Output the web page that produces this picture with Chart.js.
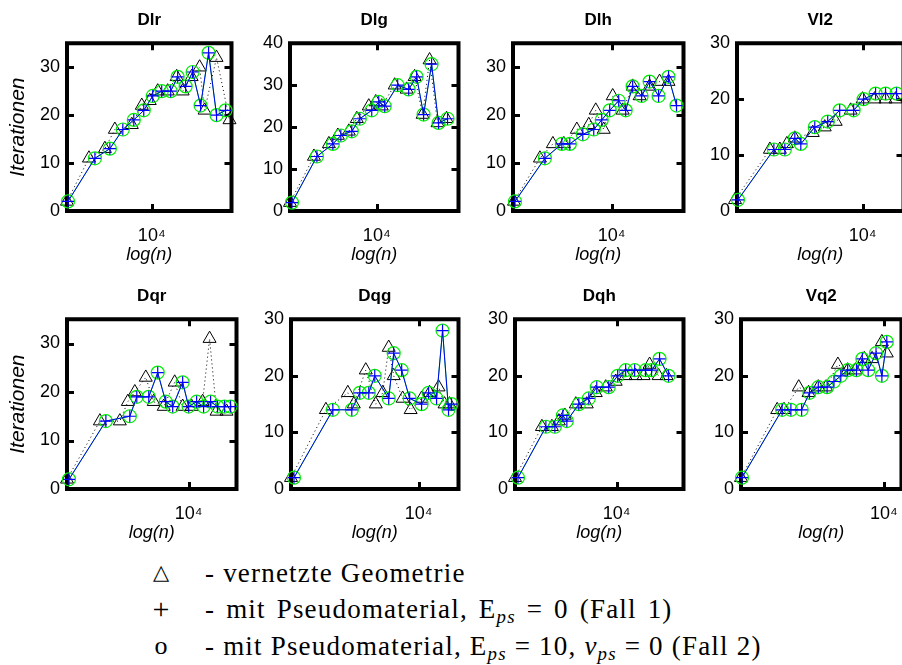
<!DOCTYPE html>
<html lang="de">
<head>
<meta charset="utf-8">
<title>Iterationen</title>
<script src="https://cdn.jsdelivr.net/npm/chart.js@4.4.1/dist/chart.umd.min.js"></script>
<style>
  html, body { margin: 0; padding: 0; background: #fff; }
  body { position: relative; width: 902px; height: 665px; overflow: hidden; }
  canvas { position: absolute; }
  .zeile { position: absolute; left: 205px; font-family: "Liberation Serif", "Times New Roman", serif; font-size: 27px; line-height: 27px; letter-spacing: 1.2px; white-space: nowrap; color: #000; }
  .symbol { position: absolute; left: 148px; width: 26px; text-align: center; font-family: "Liberation Serif", serif; line-height: 26px; color: #000; }
  .weit { word-spacing: 3px; }
  sub { font-size: 0.7em; vertical-align: -0.25em; line-height: 0; }
</style>
</head>
<body>
<div class="symbol" style="top:559px; font-family:'DejaVu Sans'; font-size:21px;">△</div>
<div class="zeile" style="top:560px;">- vernetzte Geometrie</div>
<div class="symbol" style="top:596px; font-size:30px;">+</div>
<div class="zeile weit" style="top:596px;">- mit Pseudomaterial, E<sub><i>ps</i></sub> = 0 (Fall 1)</div>
<div class="symbol" style="top:633px; font-size:26px;">o</div>
<div class="zeile" style="top:633px;">- mit Pseudomaterial, E<sub><i>ps</i></sub> = 10, <i>ν</i><sub><i>ps</i></sub> = 0 (Fall 2)</div>

<script>
// x values are log10(n), y values are iteration counts
const yTickValues = [0, 10, 20, 30, 40];
const xTickValues = [4];

// Dlr
const dlrNetzX = [3.15, 3.37, 3.53, 3.63, 3.80, 3.90, 3.98, 4.06, 4.16, 4.25, 4.31, 4.40, 4.48, 4.53, 4.65, 4.78];
const dlrNetzY = [2, 11, 13, 17, 18, 22, 23, 25, 25, 28, 25, 28, 30, 21, 32, 19];
const dlrPseudoX = [3.16, 3.43, 3.58, 3.71, 3.82, 3.92, 4.01, 4.10, 4.19, 4.26, 4.34, 4.41, 4.49, 4.57, 4.65, 4.74];
const dlrFall1 = [2, 11, 13, 17, 19, 21, 24, 25, 25, 28, 26, 29, 22, 33, 20, 21];
const dlrFall2 = [2, 11, 13, 17, 19, 21, 24, 25, 25, 28, 26, 29, 22, 33, 20, 21];

// Dlg
const dlgNetzX = [3.13, 3.37, 3.52, 3.61, 3.72, 3.80, 3.92, 3.99, 4.05, 4.18, 4.30, 4.38, 4.46, 4.53, 4.61, 4.70];
const dlgNetzY = [2, 13, 16, 18, 19, 22, 25, 26, 25, 30, 29, 32, 23, 36, 21, 22];
const dlgPseudoX = [3.15, 3.40, 3.56, 3.64, 3.75, 3.83, 3.95, 4.02, 4.08, 4.21, 4.32, 4.40, 4.47, 4.55, 4.62, 4.71];
const dlgFall1 = [2, 13, 16, 18, 19, 22, 24, 26, 25, 30, 29, 32, 23, 35, 21, 22];
const dlgFall2 = [2, 13, 16, 18, 19, 22, 24, 26, 25, 30, 29, 32, 23, 35, 21, 22];

// Dlh
const dlhNetzX = [3.02, 3.28, 3.41, 3.52, 3.65, 3.77, 3.84, 3.92, 4.01, 4.11, 4.21, 4.28, 4.38, 4.48, 4.57];
const dlhNetzY = [2, 11, 14, 14, 17, 18, 21, 17, 24, 21, 26, 24, 26, 27, 27];
const dlhPseudoX = [3.03, 3.33, 3.50, 3.58, 3.71, 3.82, 3.90, 3.98, 4.07, 4.14, 4.21, 4.30, 4.38, 4.47, 4.57, 4.65];
const dlhFall1 = [2, 11, 14, 14, 16, 17, 19, 21, 23, 21, 26, 24, 27, 24, 28, 22];
const dlhFall2 = [2, 11, 14, 14, 16, 17, 19, 21, 23, 21, 26, 24, 27, 24, 28, 22];

// Vl2
const vl2NetzX = [2.72, 3.07, 3.17, 3.24, 3.32, 3.50, 3.62, 3.73, 3.88, 4.00, 4.12, 4.23, 4.33];
const vl2NetzY = [2, 11, 11, 12, 13, 14, 15, 16, 18, 20, 20, 20, 20];
const vl2PseudoX = [2.75, 3.11, 3.22, 3.32, 3.38, 3.52, 3.65, 3.77, 3.91, 4.01, 4.13, 4.23, 4.34];
const vl2Fall1 = [2, 11, 11, 13, 12, 15, 16, 18, 18, 20, 21, 21, 21];
const vl2Fall2 = [2, 11, 11, 13, 12, 15, 16, 18, 18, 20, 21, 21, 21];

// Dqr
const dqrNetzX = [2.78, 3.11, 3.31, 3.39, 3.46, 3.57, 3.65, 3.75, 3.86, 3.94, 4.03, 4.14, 4.21, 4.28, 4.38];
const dqrNetzY = [2, 14, 14, 18, 20, 23, 18, 17, 22, 17, 17, 18, 31, 16, 16];
const dqrPseudoX = [2.80, 3.17, 3.41, 3.48, 3.60, 3.69, 3.77, 3.84, 3.94, 4.00, 4.08, 4.15, 4.22, 4.29, 4.36, 4.42];
const dqrFall1 = [2, 14, 15, 19, 19, 24, 18, 17, 22, 17, 18, 17, 18, 17, 17, 17];
const dqrFall2 = [2, 14, 15, 19, 19, 24, 18, 17, 22, 17, 18, 17, 18, 17, 17, 17];

// Dqg
const dqgNetzX = [2.72, 3.07, 3.29, 3.35, 3.47, 3.57, 3.64, 3.70, 3.75, 3.84, 3.92, 4.03, 4.11, 4.20, 4.26, 4.31];
const dqgNetzY = [2, 14, 17, 15, 21, 15, 17, 25, 20, 16, 14, 16, 17, 18, 15, 15];
const dqgPseudoX = [2.75, 3.14, 3.33, 3.41, 3.50, 3.56, 3.70, 3.75, 3.83, 3.91, 4.03, 4.10, 4.18, 4.24, 4.30, 4.33];
const dqgFall1 = [2, 14, 14, 17, 17, 20, 16, 24, 21, 16, 15, 17, 16, 28, 14, 15];
const dqgFall2 = [2, 14, 14, 17, 17, 20, 16, 24, 21, 16, 15, 17, 16, 28, 14, 15];

// Dqh
const dqhNetzX = [2.98, 3.25, 3.35, 3.42, 3.48, 3.59, 3.70, 3.79, 3.89, 3.99, 4.09, 4.19, 4.27, 4.33, 4.42, 4.50];
const dqhNetzY = [2, 11, 11, 12, 13, 15, 15, 17, 18, 19, 20, 20, 20, 22, 20, 20];
const dqhPseudoX = [3.01, 3.29, 3.38, 3.46, 3.50, 3.62, 3.72, 3.80, 3.92, 4.01, 4.09, 4.18, 4.29, 4.35, 4.43, 4.52];
const dqhFall1 = [2, 11, 11, 13, 12, 15, 16, 18, 18, 20, 21, 21, 21, 21, 23, 20];
const dqhFall2 = [2, 11, 11, 13, 12, 15, 16, 18, 18, 20, 21, 21, 21, 21, 23, 20];

// Vq2
const vq2NetzX = [2.54, 2.91, 2.98, 3.13, 3.23, 3.33, 3.41, 3.53, 3.63, 3.71, 3.80, 3.88, 3.98, 4.03];
const vq2NetzY = [2, 14, 14, 18, 17, 18, 18, 22, 21, 21, 23, 23, 26, 24];
const vq2PseudoX = [2.55, 2.96, 3.05, 3.16, 3.24, 3.33, 3.42, 3.49, 3.56, 3.63, 3.72, 3.78, 3.84, 3.92, 3.98, 4.03];
const vq2Fall1 = [2, 14, 14, 14, 17, 18, 18, 19, 20, 21, 21, 23, 21, 24, 20, 26];
const vq2Fall2 = [2, 14, 14, 14, 17, 18, 18, 19, 20, 21, 21, 23, 21, 24, 20, 26];

// axis limits per panel
const xLimits = [[3.15, 4.80], [3.13, 4.82], [3.01, 4.72], [2.74, 4.41], [2.78, 4.48], [2.72, 4.40], [2.98, 4.67], [2.54, 4.18]];
const yMax = [35, 40, 35, 30, 35, 30, 30, 30];

// plot boxes on the page: left, top, width, height
const boxes = [
  [67, 43, 165, 168], [290, 43, 169, 168], [513, 43, 171, 168], [737, 43, 167, 168],
  [67, 319, 170, 170], [291, 319, 168, 170], [515, 319, 169, 170], [741, 319, 164, 170]
];

const panels = [
  { title: 'Dlr', netzX: dlrNetzX, netzY: dlrNetzY, pseudoX: dlrPseudoX, fall1: dlrFall1, fall2: dlrFall2 },
  { title: 'Dlg', netzX: dlgNetzX, netzY: dlgNetzY, pseudoX: dlgPseudoX, fall1: dlgFall1, fall2: dlgFall2 },
  { title: 'Dlh', netzX: dlhNetzX, netzY: dlhNetzY, pseudoX: dlhPseudoX, fall1: dlhFall1, fall2: dlhFall2 },
  { title: 'Vl2', netzX: vl2NetzX, netzY: vl2NetzY, pseudoX: vl2PseudoX, fall1: vl2Fall1, fall2: vl2Fall2 },
  { title: 'Dqr', netzX: dqrNetzX, netzY: dqrNetzY, pseudoX: dqrPseudoX, fall1: dqrFall1, fall2: dqrFall2 },
  { title: 'Dqg', netzX: dqgNetzX, netzY: dqgNetzY, pseudoX: dqgPseudoX, fall1: dqgFall1, fall2: dqgFall2 },
  { title: 'Dqh', netzX: dqhNetzX, netzY: dqhNetzY, pseudoX: dqhPseudoX, fall1: dqhFall1, fall2: dqhFall2 },
  { title: 'Vq2', netzX: vq2NetzX, netzY: vq2NetzY, pseudoX: vq2PseudoX, fall1: vq2Fall1, fall2: vq2Fall2 }
];

const PAD_L = 62, PAD_R = 8, PAD_T = 40, PAD_B = 58;
const SANS = "'Liberation Sans', Arial, sans-serif";

Chart.defaults.font.family = SANS;
Chart.defaults.color = '#000';

const pts = (xs, ys) => xs.map((x, i) => ({ x: x, y: ys[i] }));

// thick frame with inward tick marks, drawn under the markers
const rahmen = {
  id: 'rahmen',
  beforeDatasetsDraw(chart) {
    const { ctx, chartArea: a, scales: { x, y } } = chart;
    ctx.save();
    ctx.strokeStyle = '#000';
    ctx.lineWidth = 3;
    ctx.beginPath();
    y.ticks.forEach(t => {
      const py = Math.round(y.getPixelForValue(t.value)) + 0.5;
      ctx.moveTo(a.left, py); ctx.lineTo(a.left + 7, py);
      ctx.moveTo(a.right, py); ctx.lineTo(a.right - 7, py);
    });
    x.ticks.forEach(t => {
      const px = Math.round(x.getPixelForValue(t.value)) + 0.5;
      ctx.moveTo(px, a.top); ctx.lineTo(px, a.top + 7);
      ctx.moveTo(px, a.bottom); ctx.lineTo(px, a.bottom - 7);
    });
    ctx.stroke();
    ctx.lineWidth = 4;
    ctx.strokeRect(a.left, a.top, a.right - a.left, a.bottom - a.top);
    ctx.restore();
  }
};

panels.forEach((p, i) => {
  const [bx, by, bw, bh] = boxes[i];
  const cv = document.createElement('canvas');
  cv.width = PAD_L + bw + PAD_R;
  cv.height = PAD_T + bh + PAD_B;
  cv.style.left = (bx - PAD_L) + 'px';
  cv.style.top = (by - PAD_T) + 'px';
  document.body.appendChild(cv);

  new Chart(cv, {
    type: 'line',
    data: {
      datasets: [
        {
          label: 'Fall 1',
          data: pts(p.pseudoX, p.fall1),
          borderColor: '#0000ff',
          borderWidth: 1,
          pointStyle: 'cross',
          pointRadius: 6,
          pointBorderColor: '#0000ff',
          pointBorderWidth: 1.2,
          clip: false
        },
        {
          label: 'Fall 2',
          data: pts(p.pseudoX, p.fall2),
          borderColor: '#00e000',
          borderWidth: 1,
          pointStyle: 'circle',
          pointRadius: 6.5,
          pointBorderColor: '#00ee00',
          pointBackgroundColor: 'rgba(0,0,0,0)',
          pointBorderWidth: 1.2,
          clip: false
        },
        {
          label: 'vernetzte Geometrie',
          data: pts(p.netzX, p.netzY),
          borderColor: '#000',
          borderWidth: 1,
          borderDash: [1, 3],
          pointStyle: 'triangle',
          pointRadius: 7.5,
          pointBorderColor: '#000',
          pointBackgroundColor: 'rgba(0,0,0,0)',
          pointBorderWidth: 1,
          clip: false
        }
      ]
    },
    options: {
      responsive: false,
      animation: false,
      events: [],
      layout: { padding: { left: 0, right: PAD_R, top: 0, bottom: 0 } },
      elements: { line: { tension: 0 } },
      plugins: {
        legend: { display: false },
        tooltip: { enabled: false },
        title: {
          display: true,
          text: p.title,
          fullSize: false,
          color: '#000',
          font: { size: 17, weight: 'bold', lineHeight: 1.25 },
          padding: { top: 7, bottom: 12 }
        }
      },
      scales: {
        x: {
          type: 'linear',
          min: xLimits[i][0],
          max: xLimits[i][1],
          grid: { display: false, drawTicks: false },
          border: { display: false },
          afterBuildTicks: s => { s.ticks = xTickValues.map(v => ({ value: v })); },
          afterFit: s => { s.height = PAD_B; },
          ticks: {
            autoSkip: false,
            maxRotation: 0,
            padding: 14,
            font: { size: 18 },
            callback: v => '10⁴'
          },
          title: {
            display: true,
            text: 'log(n)',
            font: { size: 18, style: 'italic' },
            padding: { top: 0, bottom: 3 }
          }
        },
        y: {
          min: 0,
          max: yMax[i],
          grid: { display: false, drawTicks: false },
          border: { display: false },
          afterBuildTicks: s => { s.ticks = yTickValues.filter(v => v <= s.max).map(v => ({ value: v })); },
          afterFit: s => { s.width = PAD_L; },
          ticks: { padding: 7, font: { size: 18 } },
          title: {
            display: i % 4 === 0,
            text: 'Iterationen',
            font: { size: 21, style: 'italic' },
            padding: { top: 1, bottom: 0 }
          }
        }
      }
    },
    plugins: [rahmen]
  });
});
</script>
</body>
</html>
